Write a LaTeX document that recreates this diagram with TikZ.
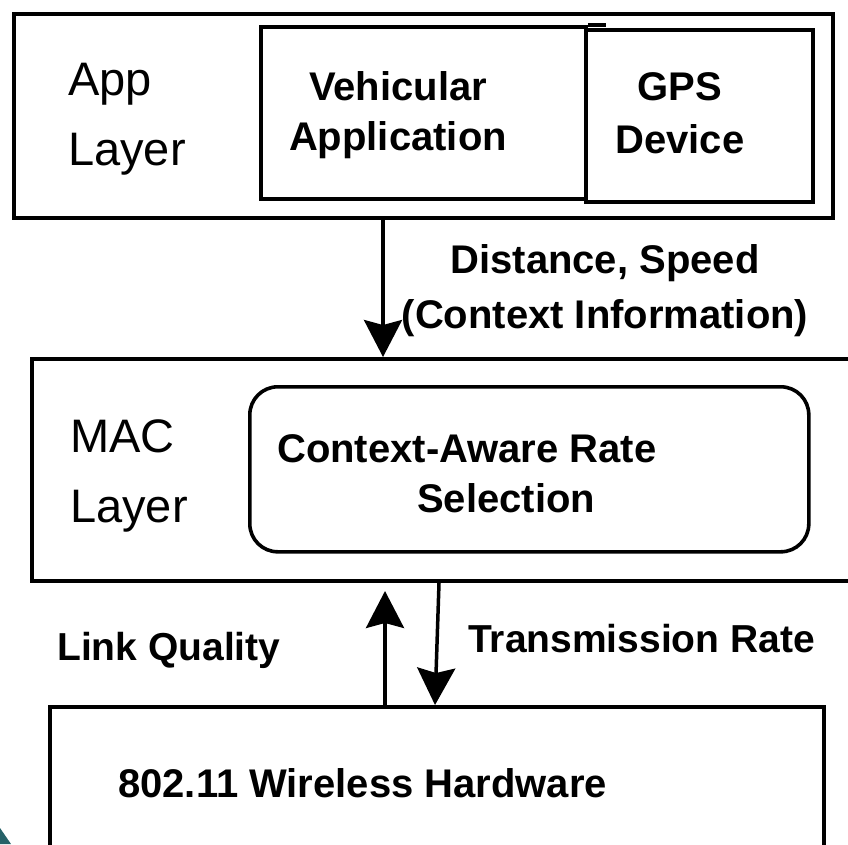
\documentclass[tikz,border=0pt]{standalone}
\usepackage{fontspec}
\setmainfont{Liberation Sans}
\usetikzlibrary{arrows.meta}
\definecolor{teal1}{RGB}{38,98,104}
\tikzset{
  box/.style={draw=black, line width=4pt, rectangle, inner sep=0pt, anchor=north west, fill=white},
  rbox/.style={draw=black, line width=3.6pt, rectangle, rounded corners=28pt, inner sep=0pt, anchor=north west},
  lbl/.style={font=\fontsize{47}{70}\selectfont, inner sep=0pt, anchor=north west, align=left},
  bld/.style={font=\bfseries\fontsize{40}{52}\selectfont, inner sep=0pt},
  arr/.style={line width=3.5pt, -{Stealth[length=37pt, width=38pt, inset=5pt]}}
}
\begin{document}
\begin{tikzpicture}[x=1pt, y=-1pt]
\clip (0,0) rectangle (848,844);
\fill[white] (0,0) rectangle (848,844);
% boxes
\node[box, minimum width=819pt, minimum height=204pt] (app) at (12,12) {};
\node[box, minimum width=325pt, minimum height=172pt] (va) at (259,25) {};
\node[box, minimum width=227pt, minimum height=172pt] (gps) at (584,28) {};
\draw[line width=4pt] (va.north east) -- ++(18,0);
\node[box, minimum width=860pt, minimum height=222pt] (mac) at (30,357) {};
\node[rbox, minimum width=559pt, minimum height=165pt] (cars) at (248,385) {};
\node[box, minimum width=774pt, minimum height=200pt] (hw) at (48,705) {};
% texts
\node[lbl] (applbl) at (68,46) {\strut App\\Layer};
\node[lbl] (maclbl) at (70,403) {\strut MAC\\Layer};
\node[bld, anchor=north, align=center, font=\bfseries\fontsize{40}{50}\selectfont] (vatxt) at (398,65) {\strut Vehicular\\Application};
\node[bld, anchor=north, align=center, font=\bfseries\fontsize{40}{53}\selectfont] (gpstxt) at (680,63) {\strut GPS\\Device};
\node[bld, anchor=north, align=center, font=\bfseries\fontsize{40}{55}\selectfont] (ctx) at (605,234.5) {\strut Distance, Speed\\(Context Information)};
\node[bld, anchor=north west, align=left, font=\bfseries\fontsize{40}{50}\selectfont] (carstxt) at (277,427) {\strut Context-Aware Rate\\\hspace*{140pt}Selection};
\node[bld, anchor=base west, font=\bfseries\fontsize{39}{50}\selectfont] (lq) at (57,660) {Link Quality};
\node[bld, anchor=base west, font=\bfseries\fontsize{39}{50}\selectfont] (tr) at (468,652) {Transmission Rate};
\node[bld, anchor=base west] (hwtxt) at (118,797) {802.11 Wireless Hardware};
% connectors
\coordinate (c1) at (383,0);
\coordinate (c2) at (385,0);
\coordinate (c3) at (439,0);
\coordinate (c4) at (435,0);
\draw[arr] (c1 |- app.south) -- (c1 |- mac.north);
\draw[arr, shorten >=8pt] (c2 |- hw.north) -- (c2 |- mac.south);
\draw[arr] (c3 |- mac.south) -- (c4 |- hw.north);
% corner artifact
\fill[teal1] (0,828) -- (11,844) -- (0,844) -- cycle;
\end{tikzpicture}
\end{document}
